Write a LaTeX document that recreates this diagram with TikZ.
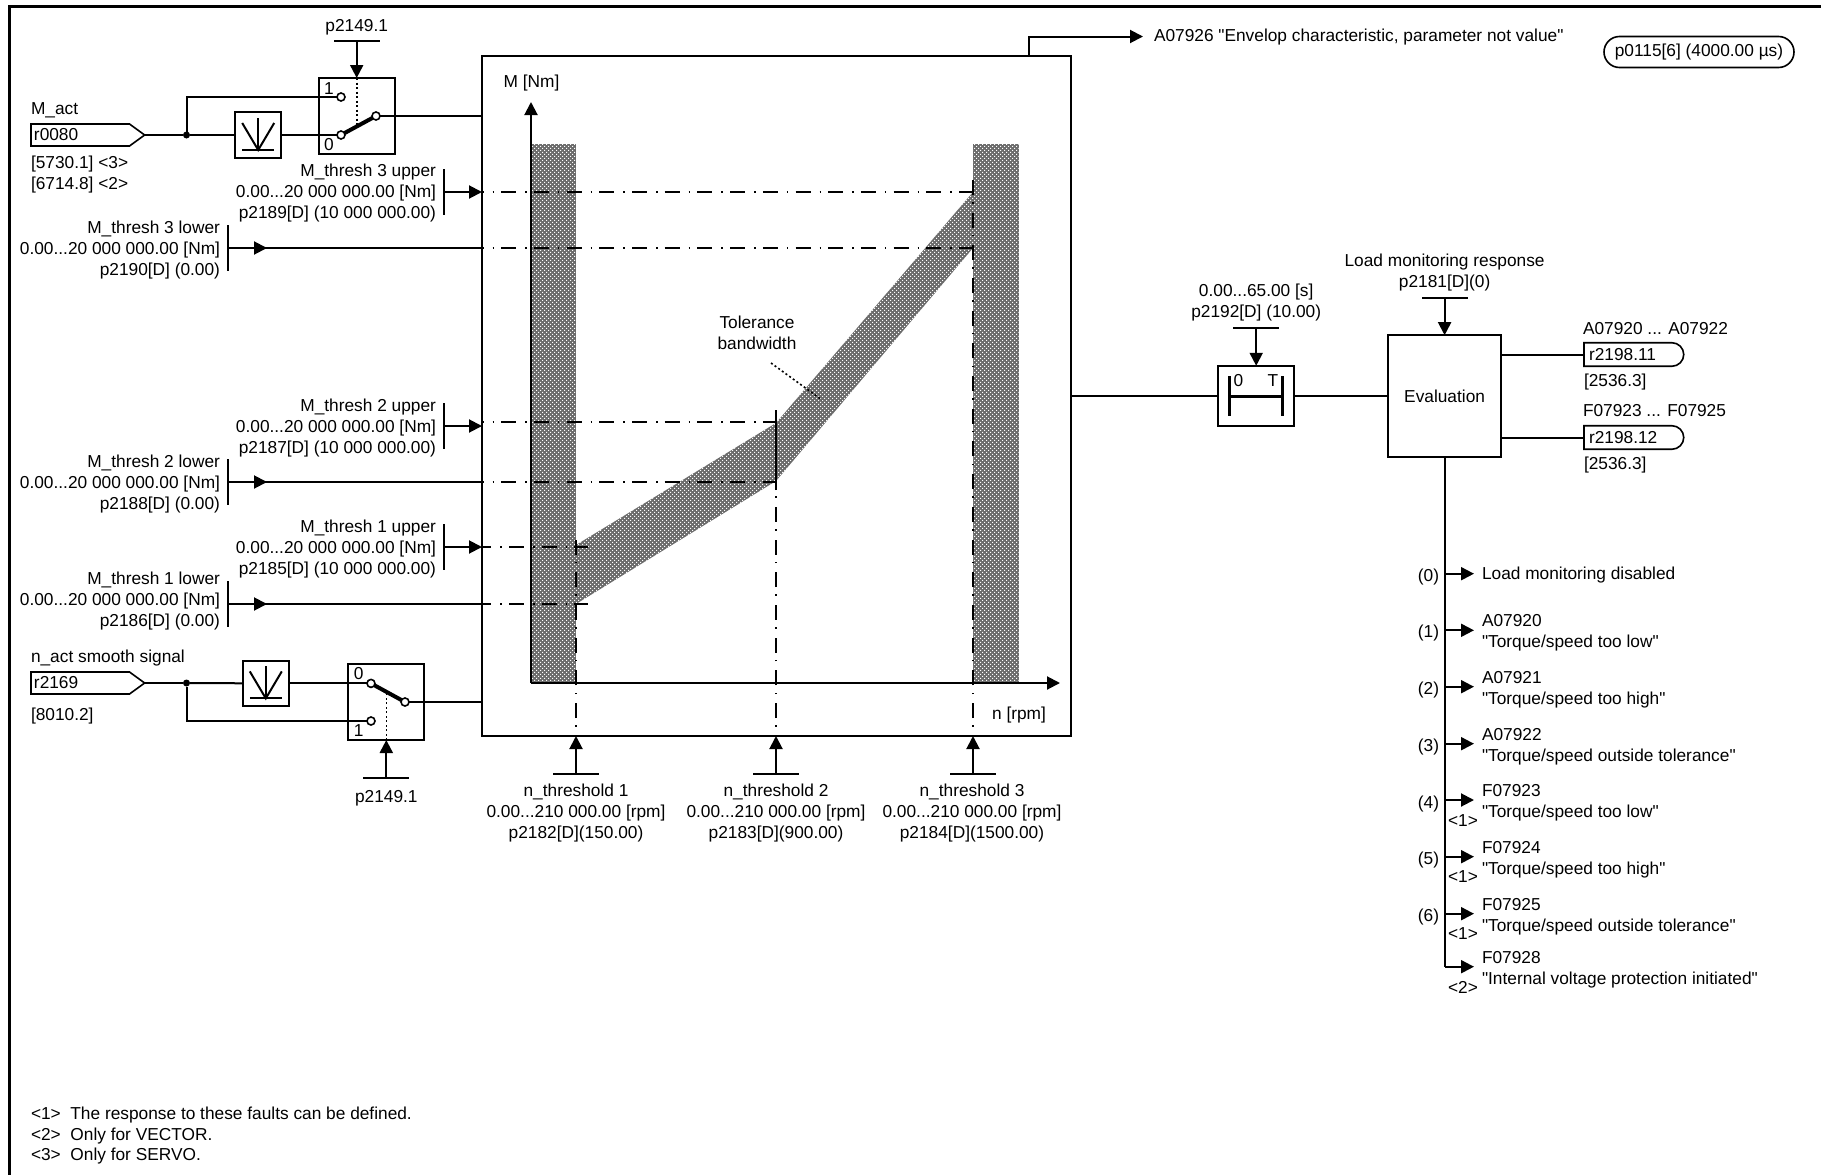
\documentclass[tikz,border=0pt]{standalone}
\usepackage{fontspec}
\setmainfont[Ligatures=TeXOff]{Liberation Sans}
\usetikzlibrary{arrows.meta,patterns,shapes.misc,shapes.symbols}
\pgfdeclarepatternformonly{toldots}{\pgfpoint{-1pt}{-1pt}}{\pgfpoint{5pt}{5pt}}{\pgfpoint{4pt}{4pt}}{
  \pgfpathrectangle{\pgfpoint{0pt}{0pt}}{\pgfpoint{1.2pt}{1.2pt}}
  \pgfpathrectangle{\pgfpoint{2pt}{2pt}}{\pgfpoint{1.2pt}{1.2pt}}
  \pgfusepath{fill}}
\begin{document}
\begin{tikzpicture}[x=1pt,y=-1pt,
  every node/.style={font=\fontsize{17.3}{21}\selectfont,inner sep=0pt,outer sep=0pt},
  wire/.style={line width=2pt},
  sigarrow/.style={line width=2pt,-{Triangle[length=13pt,width=13pt]}},
  busarrow/.style={sigarrow,shorten >=8pt},
  guideline/.style={line width=2pt,dash pattern=on 15pt off 9pt on 1.5pt off 7.2pt,dash phase=13.5pt},
  guideup/.style={guideline,dash phase=14.7pt},
  blockbox/.style={draw,line width=2pt,fill=white},
  contact/.style={circle,draw,fill=white,line width=1.6pt,minimum size=8pt},
  lever/.style={line width=4pt},
  tolband/.style={fill=black!58,postaction={pattern=toldots,pattern color=white}},
  junction/.style={circle,fill=black,minimum size=7pt},
  vbar/.style={fill=black,minimum width=2pt,minimum height=46pt},
  hbar/.style={fill=black,minimum width=46pt,minimum height=2pt},
  tagin/.style={draw,line width=1.6pt,signal,signal to=east,signal pointer angle=72,anchor=west,minimum height=22pt,inner xsep=3pt,text width=92.5pt,align=left},
  tagout/.style={draw,line width=1.6pt,rounded rectangle,rounded rectangle left arc=none,anchor=west,minimum height=23.5pt,inner xsep=5pt,text width=88pt,align=left}]
  \useasboundingbox (0,0) rectangle (1821,1175);
  \draw[line width=3pt] (9,1175)--(9,6.5)--(1821,6.5);
  \node[blockbox,minimum width=589pt,minimum height=680pt] (curvebox) at (776.5,396) {};
  \path[tolband] (531,144) rectangle (576,683);
  \path[tolband] (973,144) rectangle (1018.5,683);
  \path[tolband] (576,545)--(776,423)--(973,192)--(973,248)--(776,481)--(576,604)--cycle;
  \coordinate (axisorigin) at (531,683);
  \coordinate (axistop) at (531,102);
  \coordinate (axisend) at (1060,683);
  \draw[sigarrow] (axisorigin)--(axistop);
  \draw[sigarrow] (axisorigin)--(axisend);
  \node (axisM) at (531.5,83) {M [Nm]};
  \node (axisn) at (1019,715) {n [rpm]};
  \node[align=center] (tollabel) at (757,332.5) {Tolerance\\bandwidth};
  \coordinate (tolstart) at (771,363);
  \coordinate (tolend) at (822,400);
  \draw[line width=1.6pt,dash pattern=on 2pt off 2.5pt] (tolstart)--(tolend);
  \draw[guideline] (curvebox.west |- 0,192)--(973,192);
  \draw[guideline] (curvebox.west |- 0,248)--(973,248);
  \draw[guideline] (curvebox.west |- 0,422)--(776,422);
  \draw[guideline] (curvebox.west |- 0,482)--(776,482);
  \draw[guideline,dash phase=5.7pt] (curvebox.west |- 0,547)--(588,547);
  \draw[guideline,dash phase=5.7pt] (curvebox.west |- 0,604)--(588,604);
  \draw[guideup] (576,736)--(576,538);
  \draw[guideup] (776,736)--(776,490);
  \draw[line width=2pt] (776,490)--(776,410);
  \draw[guideup] (973,736)--(973,179);

  \node[anchor=west] (actname) at (31,110) {M\_act};
  \node[tagin] (tagact) at (31,135) {r0080};
  \node[anchor=north west,align=left] (actrefs) at (31,155.5) {[5730.1] <3>\\{}[6714.8] <2>};
  \node[junction] (junact) at (186.5,135) {};
  \node[blockbox,minimum size=45.5pt] (filtact) at (258.2,135) {};
  \begin{scope}[shift={(258.2,135)},line width=2pt]
    \draw (-16,-12)--(0,15)--(16,-12);
    \draw (0,-17)--(0,15);
    \draw (-16,15)--(16,15);
  \end{scope}
  \node[blockbox,minimum size=76pt] (swtop) at (356.7,116) {};
  \node (swtop1) at (329,89) {1};
  \node (swtop0) at (329,145) {0};
  \node[contact] (conttop1) at (341,97) {};
  \node[contact] (conttop0) at (341,135) {};
  \node[contact] (conttopout) at (376,116) {};
  \coordinate (swtoplever) at (356.7,126);
  \draw[line width=1.6pt,dash pattern=on 2pt off 2.5pt] (swtop.north)--(swtoplever);
  \draw[lever] (conttop0)--(conttopout);
  \draw[wire] (tagact.east)--(junact);
  \draw[wire] (junact)--(filtact);
  \draw[wire] (filtact)--(conttop0);
  \draw[wire] (junact) |- (conttop1);
  \draw[wire] (conttopout)--(curvebox.west |- conttopout);
  \node[hbar] (barswtop) at (356.7,40.5) {};
  \node (paramswtop) at (356.7,27) {p2149.1};
  \draw[sigarrow] (barswtop)--(swtop.north);

  \node[vbar] (baru3) at (444,192) {};
  \node[anchor=east,align=right] (txtu3) at (436,193) {M\_thresh 3 upper\\0.00...20 000 000.00 [Nm]\\p2189[D] (10 000 000.00)};
  \draw[sigarrow] (baru3)--(curvebox.west |- baru3);
  \node[vbar] (barl3) at (228,248) {};
  \node[anchor=east,align=right] (txtl3) at (220,250) {M\_thresh 3 lower\\0.00...20 000 000.00 [Nm]\\p2190[D] (0.00)};
  \coordinate (arrl3) at (267,248);
  \draw[wire] (barl3)--(curvebox.west |- barl3);
  \draw[sigarrow] (barl3)--(arrl3);

  \node[vbar] (baru2) at (444,426) {};
  \node[anchor=east,align=right] (txtu2) at (436,428) {M\_thresh 2 upper\\0.00...20 000 000.00 [Nm]\\p2187[D] (10 000 000.00)};
  \draw[sigarrow] (baru2)--(curvebox.west |- baru2);
  \node[vbar] (barl2) at (228,482) {};
  \node[anchor=east,align=right] (txtl2) at (220,484) {M\_thresh 2 lower\\0.00...20 000 000.00 [Nm]\\p2188[D] (0.00)};
  \coordinate (arrl2) at (267,482);
  \draw[wire] (barl2)--(curvebox.west |- barl2);
  \draw[sigarrow] (barl2)--(arrl2);

  \node[vbar] (baru1) at (444,547) {};
  \node[anchor=east,align=right] (txtu1) at (436,549) {M\_thresh 1 upper\\0.00...20 000 000.00 [Nm]\\p2185[D] (10 000 000.00)};
  \draw[sigarrow] (baru1)--(curvebox.west |- baru1);
  \node[vbar] (barl1) at (228,604) {};
  \node[anchor=east,align=right] (txtl1) at (220,601) {M\_thresh 1 lower\\0.00...20 000 000.00 [Nm]\\p2186[D] (0.00)};
  \coordinate (arrl1) at (267,604);
  \draw[wire] (barl1)--(curvebox.west |- barl1);
  \draw[sigarrow] (barl1)--(arrl1);

  \node[anchor=west] (nactname) at (31,658.5) {n\_act smooth signal};
  \node[tagin] (tagn) at (31,683) {r2169};
  \node[anchor=west] (nactref) at (31,716.5) {[8010.2]};
  \node[junction] (junn) at (186.5,683) {};
  \node[blockbox,minimum size=45.5pt] (filtn) at (265.8,683.4) {};
  \begin{scope}[shift={(265.8,683.4)},line width=2pt]
    \draw (-16,-12)--(0,15)--(16,-12);
    \draw (0,-17)--(0,15);
    \draw (-16,15)--(16,15);
  \end{scope}
  \node[blockbox,minimum size=76pt] (swbot) at (386.3,702) {};
  \node (swbot0) at (358.6,674) {0};
  \node (swbot1) at (358.6,731) {1};
  \node[contact] (contbot0) at (371,683.4) {};
  \node[contact] (contbot1) at (371,721) {};
  \node[contact] (contbotout) at (405,702) {};
  \coordinate (swbotlever) at (386.3,693);
  \draw[line width=1.6pt,dash pattern=on 2pt off 2.5pt] (swbot.south)--(swbotlever);
  \draw[lever] (contbot0)--(contbotout);
  \draw[wire] (tagn.east)--(junn);
  \draw[wire] (junn)--(filtn);
  \draw[wire] (filtn)--(contbot0);
  \draw[wire] (junn) |- (contbot1);
  \draw[wire] (contbotout)--(curvebox.west |- contbotout);
  \node[hbar] (barswbot) at (386.3,777.5) {};
  \node (paramswbot) at (386.3,798) {p2149.1};
  \draw[sigarrow] (barswbot)--(swbot.south);

  \node[hbar] (barn1) at (576,774) {};
  \node[hbar] (barn2) at (776,774) {};
  \node[hbar] (barn3) at (973,774) {};
  \draw[sigarrow] (barn1)--(curvebox.south -| barn1);
  \draw[sigarrow] (barn2)--(curvebox.south -| barn2);
  \draw[sigarrow] (barn3)--(curvebox.south -| barn3);
  \node[anchor=north,align=center] (txtn1) at (576,783.5) {n\_threshold 1\\0.00...210 000.00 [rpm]\\p2182[D](150.00)};
  \node[anchor=north,align=center] (txtn2) at (776,783.5) {n\_threshold 2\\0.00...210 000.00 [rpm]\\p2183[D](900.00)};
  \node[anchor=north,align=center] (txtn3) at (972,783.5) {n\_threshold 3\\0.00...210 000.00 [rpm]\\p2184[D](1500.00)};

  \coordinate (alarmtap) at (1029.4,56);
  \coordinate (alarmend) at (1143,36.5);
  \draw[sigarrow] (alarmtap) |- (alarmend);
  \node[anchor=west] (alarmtxt) at (1154,37.5) {A07926 "Envelop characteristic, parameter not value"};
  \node[draw,line width=1.6pt,rounded rectangle,minimum width=190pt,minimum height=31pt] (sampletime) at (1699,52) {p0115[6] (4000.00 µs)};

  \node[blockbox,minimum width=76.4pt,minimum height=60.4pt] (delaybox) at (1256.2,396) {};
  \begin{scope}[shift={(1256.2,396)},line width=3pt]
    \draw (-26.5,-20)--(-26.5,20);
    \draw (26.5,-20)--(26.5,20);
    \draw (-26.5,0)--(26.5,0);
  \end{scope}
  \node (delay0) at (1238.5,381) {0};
  \node (delayT) at (1273,381) {T};
  \draw[wire] (curvebox.east |- delaybox)--(delaybox);
  \node[hbar] (bardelay) at (1256.2,328) {};
  \node[align=center,anchor=south] (txtdelay) at (1256.2,321.5) {0.00...65.00 [s]\\p2192[D] (10.00)};
  \draw[sigarrow] (bardelay)--(delaybox.north);
  \node[blockbox,minimum width=113.6pt,minimum height=121.6pt] (evalbox) at (1444.6,396) {Evaluation};
  \draw[wire] (delaybox)--(evalbox);
  \node[hbar] (bareval) at (1444.6,297.5) {};
  \node[align=center,anchor=south] (txteval) at (1444.6,291.5) {Load monitoring response\\p2181[D](0)};
  \draw[sigarrow] (bareval)--(evalbox.north);

  \node[tagout] (tagr11) at (1584,354.5) {r2198.11};
  \node[anchor=west] (txtr11) at (1583,328.5) {A07920 ... A07922};
  \node[anchor=west] (refr11) at (1584,382) {[2536.3]};
  \draw[wire] (evalbox.east |- tagr11)--(tagr11.west);
  \node[tagout] (tagr12) at (1584,437.5) {r2198.12};
  \node[anchor=west] (txtr12) at (1583,411) {F07923 ... F07925};
  \node[anchor=west] (refr12) at (1584,465) {[2536.3]};
  \draw[wire] (evalbox.east |- tagr12)--(tagr12.west);

  \coordinate (bus0) at (1444.6,573.7);
  \coordinate (bus1) at (1444.6,630.3);
  \coordinate (bus2) at (1444.6,686.7);
  \coordinate (bus3) at (1444.6,743.7);
  \coordinate (bus4) at (1444.6,800);
  \coordinate (bus5) at (1444.6,856.7);
  \coordinate (bus6) at (1444.6,913.7);
  \coordinate (bus7) at (1444.6,966.7);
  \draw[wire] (evalbox.south)--(bus7);
  \node[anchor=west] (resp0) at (1482,575.5) {Load monitoring disabled};
  \node[anchor=west,align=left] (resp1) at (1482,633) {A07920\\"Torque/speed too low"};
  \node[anchor=west,align=left] (resp2) at (1482,690) {A07921\\"Torque/speed too high"};
  \node[anchor=west,align=left] (resp3) at (1482,746.5) {A07922\\"Torque/speed outside tolerance"};
  \node[anchor=west,align=left] (resp4) at (1482,803) {F07923\\"Torque/speed too low"};
  \node[anchor=west,align=left] (resp5) at (1482,860) {F07924\\"Torque/speed too high"};
  \node[anchor=west,align=left] (resp6) at (1482,916.5) {F07925\\"Torque/speed outside tolerance"};
  \node[anchor=west,align=left] (resp7) at (1482,970) {F07928\\"Internal voltage protection initiated"};
  \draw[busarrow] (bus0)--(resp0.west |- bus0);
  \draw[busarrow] (bus1)--(resp1.west |- bus1);
  \draw[busarrow] (bus2)--(resp2.west |- bus2);
  \draw[busarrow] (bus3)--(resp3.west |- bus3);
  \draw[busarrow] (bus4)--(resp4.west |- bus4);
  \draw[busarrow] (bus5)--(resp5.west |- bus5);
  \draw[busarrow] (bus6)--(resp6.west |- bus6);
  \draw[busarrow] (bus7)--(resp7.west |- bus7);
  \node[anchor=east] (sel0) at (1439,577) {(0)};
  \node[anchor=east] (sel1) at (1439,633.5) {(1)};
  \node[anchor=east] (sel2) at (1439,690) {(2)};
  \node[anchor=east] (sel3) at (1439,747) {(3)};
  \node[anchor=east] (sel4) at (1439,804.5) {(4)};
  \node[anchor=east] (sel5) at (1439,860.5) {(5)};
  \node[anchor=east] (sel6) at (1439,917.5) {(6)};
  \node (note4) at (1463,821) {<1>};
  \node (note5) at (1463,877) {<1>};
  \node (note6) at (1463,934) {<1>};
  \node (note7) at (1463,987) {<2>};

  \node[anchor=west] (foot1) at (31,1115) {<1>\ \ The response to these faults can be defined.};
  \node[anchor=west] (foot2) at (31,1136.5) {<2>\ \ Only for VECTOR.};
  \node[anchor=west] (foot3) at (31,1156.5) {<3>\ \ Only for SERVO.};
\end{tikzpicture}
\end{document}
